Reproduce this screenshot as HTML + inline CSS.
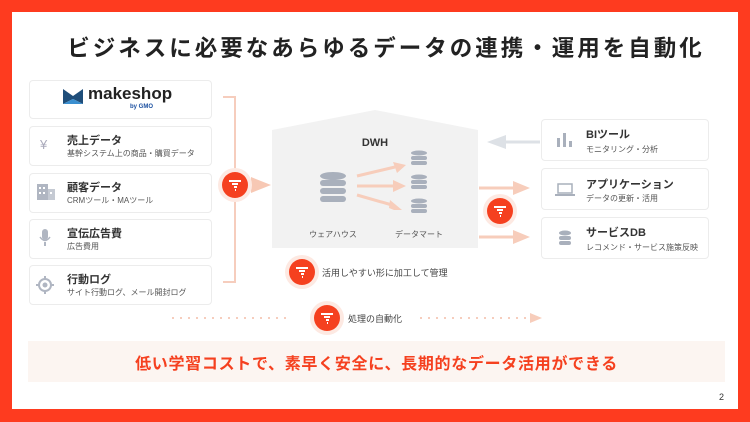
<!DOCTYPE html>
<html><head><meta charset="utf-8"><style>
*{margin:0;padding:0;box-sizing:border-box}
body{width:750px;height:422px;position:relative;background:#fff;font-family:"Liberation Sans","Noto Sans CJK JP",sans-serif;overflow:hidden}
.frame{position:absolute;left:0;top:0;width:750px;height:422px;border:12px solid #fe3b1f;border-bottom-width:13px}
.abs{position:absolute}
.card{position:absolute;background:#fff;border:1.5px solid #ececec;border-radius:4px}
.t1{position:absolute;font-size:11px;font-weight:bold;color:#333}
.t2{position:absolute;font-size:8px;color:#555}
.circ{position:absolute;width:26px;height:26px;border-radius:50%;background:#f5401f;box-shadow:0 0 0 4px #fde9e2}
.circ svg{position:absolute;left:6px;top:6px}
</style></head><body>
<div class="frame"></div>
<div class="abs" style="left:0;top:31px;width:772px;text-align:center;font-size:22.5px;font-weight:bold;color:#222;letter-spacing:3px">ビジネスに必要なあらゆるデータの連携・運用を自動化</div>

<!-- left cards -->
<div class="card" style="left:29px;top:80px;width:183px;height:39px"></div>
<svg class="abs" style="left:63px;top:89px" width="20" height="15"><path d="M0 0 L10 7 L20 0 L20 15 L10 10 L0 15Z" fill="#1f4e7a"/><path d="M0 15 L10 10 L20 15" fill="#3a8fd0"/></svg>
<div class="abs" style="left:88px;top:84px;font-size:17px;font-weight:bold;color:#222">makeshop</div>
<div class="abs" style="left:130px;top:104px;font-size:6px;font-weight:bold;color:#1a4fa0">by GMO</div>

<div class="card" style="left:29px;top:126px;width:183px;height:40px"></div>
<div class="abs" style="left:40px;top:137px;font-size:13px;color:#aab">¥</div>
<div class="t1" style="left:67px;top:132px">売上データ</div><div class="t2" style="left:67px;top:148px">基幹システム上の商品・購買データ</div>
<div class="card" style="left:29px;top:173px;width:183px;height:40px"></div>
<svg class="abs" style="left:37px;top:184px" width="18" height="16"><rect x="0" y="0" width="11" height="16" fill="#b0b6c2"/><rect x="11" y="5" width="7" height="11" fill="#c5cad3"/><g fill="#fff"><rect x="2" y="3" width="2" height="2"/><rect x="6" y="3" width="2" height="2"/><rect x="2" y="8" width="2" height="2"/><rect x="6" y="8" width="2" height="2"/><rect x="13" y="8" width="2" height="2"/></g></svg>
<div class="t1" style="left:67px;top:179px">顧客データ</div><div class="t2" style="left:67px;top:195px">CRMツール・MAツール</div>
<div class="card" style="left:29px;top:219px;width:183px;height:40px"></div>
<svg class="abs" style="left:39px;top:229px" width="12" height="18"><rect x="3" y="0" width="6" height="11" rx="3" fill="#b0b6c2"/><path d="M1 8 Q6 15 11 8" stroke="#b0b6c2" fill="none" stroke-width="1.5"/><rect x="5" y="13" width="2" height="4" fill="#b0b6c2"/></svg>
<div class="t1" style="left:67px;top:225px">宣伝広告費</div><div class="t2" style="left:67px;top:241px">広告費用</div>
<div class="card" style="left:29px;top:265px;width:183px;height:40px"></div>
<svg class="abs" style="left:36px;top:276px" width="18" height="18"><circle cx="9" cy="9" r="6" stroke="#b0b6c2" stroke-width="2" fill="none"/><circle cx="9" cy="9" r="2.5" fill="#b0b6c2"/><path d="M9 0v3M9 15v3M0 9h3M15 9h3" stroke="#b0b6c2" stroke-width="2"/></svg>
<div class="t1" style="left:67px;top:271px">行動ログ</div><div class="t2" style="left:67px;top:287px">サイト行動ログ、メール開封ログ</div>

<svg class="abs" style="left:0;top:0" width="750" height="422">
<path d="M223 97 H235 V282 H223" stroke="#f6cdbd" stroke-width="2" fill="none"/>
<path d="M251 177 L271 185 L251 193Z" fill="#f7c8b4"/>
<path d="M272 130 L375 110 L478 130 V248 H272Z" fill="#f2f2f2"/>
<g stroke="#f7cdbb" stroke-width="3"><path d="M357 176 L395 167"/><path d="M357 186 L395 186"/><path d="M357 195 L392 205"/></g>
<g fill="#f7cdbb"><path d="M393 162 L406 165 L397 173Z"/><path d="M393 180 L406 186 L393 192Z"/><path d="M390 200 L402 210 L394 210 L389 208Z"/></g>
<g fill="#a9b0bc">
<ellipse cx="333" cy="176" rx="13" ry="4"/><rect x="320" y="180" width="26" height="6" rx="3"/><rect x="320" y="188" width="26" height="6" rx="3"/><rect x="320" y="196" width="26" height="6" rx="3"/>
<g id="s"><ellipse cx="419" cy="153" rx="8" ry="2.5"/><rect x="411" y="156" width="16" height="4" rx="2"/><rect x="411" y="161" width="16" height="4" rx="2"/></g>
<use href="#s" y="24"/><use href="#s" y="48"/>
</g>
<g stroke="#f7cdbb" stroke-width="3"><path d="M479 188 H515"/><path d="M479 237 H515"/></g>
<g fill="#f7cdbb"><path d="M513 181 L530 188 L513 195Z"/><path d="M513 230 L530 237 L513 244Z"/></g>
<path d="M540 142 H505" stroke="#dde1e6" stroke-width="3"/><path d="M506 135 L487 142 L506 149Z" fill="#dde1e6"/>
<g stroke="#f6cdbd" stroke-width="2" stroke-dasharray="2 6"><path d="M172 318 H292"/><path d="M420 318 H532"/></g>
<path d="M530 313 L542 318 L530 323Z" fill="#f7cdbb"/>
</svg>
<div class="abs" style="left:272px;top:137px;width:206px;text-align:center;font-size:11px;font-weight:bold;color:#333">DWH</div>
<div class="t2" style="left:303px;top:229px;width:60px;text-align:center">ウェアハウス</div>
<div class="t2" style="left:389px;top:229px;width:60px;text-align:center">データマート</div>

<div class="circ" style="left:222px;top:172px"><svg width="14" height="14"><path d="M1 3h12M4 6h6M6 9h3M7 12h1" stroke="#fff" stroke-width="2"/></svg></div>
<div class="circ" style="left:487px;top:198px"><svg width="14" height="14"><path d="M1 3h12M4 6h6M6 9h3M7 12h1" stroke="#fff" stroke-width="2"/></svg></div>
<div class="circ" style="left:289px;top:259px"><svg width="14" height="14"><path d="M1 3h12M4 6h6M6 9h3M7 12h1" stroke="#fff" stroke-width="2"/></svg></div>
<div class="circ" style="left:314px;top:305px"><svg width="14" height="14"><path d="M1 3h12M4 6h6M6 9h3M7 12h1" stroke="#fff" stroke-width="2"/></svg></div>
<div class="abs" style="left:322px;top:266px;font-size:9px;color:#444">活用しやすい形に加工して管理</div>
<div class="abs" style="left:348px;top:312px;font-size:9px;color:#444">処理の自動化</div>

<!-- right cards -->
<div class="card" style="left:541px;top:119px;width:168px;height:42px"></div>
<svg class="abs" style="left:557px;top:133px" width="16" height="14" fill="#a9b0bc"><rect x="0" y="5" width="3" height="9"/><rect x="6" y="0" width="3" height="14"/><rect x="12" y="8" width="3" height="6"/></svg>
<div class="t1" style="left:586px;top:126px">BIツール</div><div class="t2" style="left:586px;top:144px">モニタリング・分析</div>
<div class="card" style="left:541px;top:168px;width:168px;height:42px"></div>
<svg class="abs" style="left:555px;top:183px" width="20" height="14"><rect x="3" y="1" width="14" height="9" stroke="#a9b0bc" stroke-width="1.5" fill="none"/><rect x="0" y="11" width="20" height="2" fill="#a9b0bc"/></svg>
<div class="t1" style="left:586px;top:176px">アプリケーション</div><div class="t2" style="left:586px;top:193px">データの更新・活用</div>
<div class="card" style="left:541px;top:217px;width:168px;height:42px"></div>
<svg class="abs" style="left:558px;top:230px" width="14" height="16" fill="#a9b0bc"><ellipse cx="7" cy="3" rx="6" ry="2.5"/><rect x="1" y="6" width="12" height="4" rx="2"/><rect x="1" y="11" width="12" height="4" rx="2"/></svg>
<div class="t1" style="left:586px;top:224px">サービスDB</div><div class="t2" style="left:586px;top:242px">レコメンド・サービス施策反映</div>

<div class="abs" style="left:28px;top:341px;width:697px;height:41px;background:#fcf5f1"></div>
<div class="abs" style="left:28px;top:350px;width:697px;text-align:center;font-size:16px;font-weight:bold;color:#f5401f;letter-spacing:0.7px">低い学習コストで、素早く安全に、長期的なデータ活用ができる</div>
<div class="abs" style="left:719px;top:392px;font-size:9px;color:#333">2</div>
</body></html>
